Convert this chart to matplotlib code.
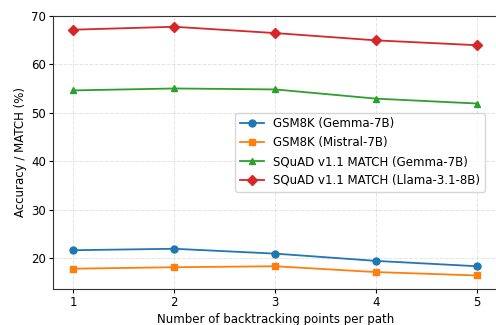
import matplotlib
matplotlib.use('Agg')
import matplotlib.pyplot as plt

backtrack_points = [1, 2, 3, 4, 5]
gsm8k_gemma = [21.7, 22.0, 21.0, 19.5, 18.4]
gsm8k_mistral = [17.9, 18.2, 18.4, 17.2, 16.5]
squad_gemma = [54.6, 55.0, 54.8, 52.9, 51.9]
squad_llama = [67.1, 67.7, 66.4, 64.9, 63.9]

fig = plt.figure(figsize=(4.96, 3.25), dpi=100)
ax = fig.add_axes([0.107, 0.112, 0.896, 0.84])

ax.plot(backtrack_points, gsm8k_gemma, marker='o', ms=5, lw=1.3, color='#1f77b4', label='GSM8K (Gemma-7B)')
ax.plot(backtrack_points, gsm8k_mistral, marker='s', ms=5, lw=1.3, color='#ff7f0e', label='GSM8K (Mistral-7B)')
ax.plot(backtrack_points, squad_gemma, marker='^', ms=5, lw=1.3, color='#2ca02c', label='SQuAD v1.1 MATCH (Gemma-7B)')
ax.plot(backtrack_points, squad_llama, marker='D', ms=5, lw=1.3, color='#d62728', label='SQuAD v1.1 MATCH (Llama-3.1-8B)')

ax.set_xticks(backtrack_points)
ax.set_xlim(0.8, 5.2)
ax.set_ylim(13.8, 70)
ax.set_xlabel('Number of backtracking points per path', fontsize=8.5, labelpad=3)
ax.set_ylabel('Accuracy / MATCH (%)', fontsize=8.5, labelpad=3)
ax.tick_params(labelsize=8.5, length=3, pad=2)
for s in ax.spines.values():
    s.set_color('#333333')
ax.grid(True, linestyle='--', alpha=0.35, lw=0.7)
ax.legend(loc='center right', fontsize=8.5, bbox_to_anchor=(0.985, 0.5))

fig.savefig('out.png', dpi=100)
